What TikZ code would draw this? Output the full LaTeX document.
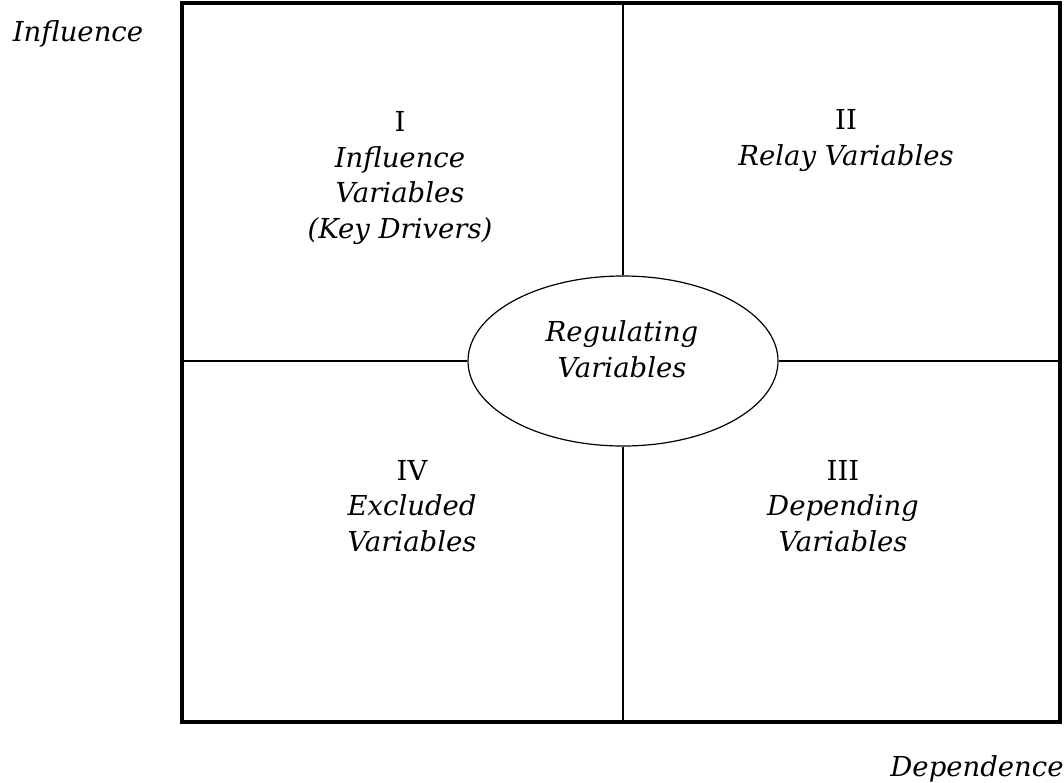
\documentclass[tikz,border=0pt]{standalone}
\usepackage{fontspec}
\setmainfont{DejaVu Serif}
\usetikzlibrary{shapes.geometric}
\tikzset{
  quad/.style={align=center, anchor=base, inner sep=0pt, font=\fontsize{27.5}{35.5}\selectfont},
  axis/.style={font=\fontsize{27.5}{35.5}\selectfont\itshape, anchor=base, inner sep=0pt}
}
\begin{document}
\begin{tikzpicture}[x=1pt, y=-1pt]
  \useasboundingbox (0,0) rectangle (1064,782);
  \draw[line width=4pt] (182,3) rectangle (1060,722);
  \node [ellipse, draw, line width=1.2pt, minimum width=310pt, minimum height=170pt] (reg) at (623,361) {};
  \coordinate (top) at (623,3);
  \coordinate (bot) at (623,722);
  \coordinate (lft) at (182,361);
  \coordinate (rgt) at (1060,361);
  \draw[line width=1.2pt] (top) -- (reg.north);
  \draw[line width=1.2pt] (reg.south) -- (bot);
  \draw[line width=1.2pt] (lft) -- (reg.west);
  \draw[line width=1.2pt] (reg.east) -- (rgt);
  % quadrant labels
  \node [quad] (q1) at (400,238) {I\\ \itshape Influence\\ \itshape Variables\\ \itshape (Key Drivers)};
  \node [quad] (q2) at (846,165) {II\\ \itshape Relay Variables};
  \node [quad] (q3) at (843,551) {III\\ \itshape Depending\\ \itshape Variables};
  \node [quad] (q4) at (412,551) {IV\\ \itshape Excluded\\ \itshape Variables};
  \node [quad] (rl) at (622,377) {\itshape Regulating\\ \itshape Variables};
  % axes
  \node [axis] (yl) at (78,41) {Influence};
  \node [axis] (xl) at (977,776) {Dependence};
\end{tikzpicture}
\end{document}
